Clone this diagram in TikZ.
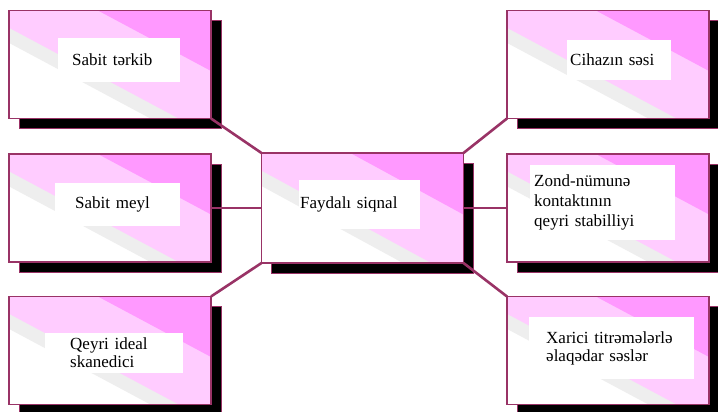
\documentclass[tikz,border=0pt]{standalone}
\usepackage{fontspec}
\setmainfont{Liberation Serif}
\usepackage{xcolor}
\usetikzlibrary{positioning,shadows,calc}

\definecolor{boxline}{HTML}{993366}
\definecolor{pinkdark}{HTML}{FF99FF}
\definecolor{pinklight}{HTML}{FFCCFF}
\definecolor{bandgray}{HTML}{EEEEEE}

% band of colour #1 from fraction #2 of the diagonal up to the top right corner
\newcommand{\bandfill}[2]{%
    \fill[#1] ($(sw)!#2!(ne)+(nw)-(se)$) -- ($(sw)!#2!(ne)+(se)-(nw)$)
        -- ($(sw)!#2!(ne)+(se)-(nw)+(ne)-(sw)$) -- ($(sw)!#2!(ne)+(nw)-(se)+(ne)-(sw)$) -- cycle;}

\begin{document}
\begin{tikzpicture}[
        node distance = 245pt,
        pinkbox/.style = {draw=boxline, line width=1.4pt, fill=white,
            minimum width=202pt, minimum height=108pt, inner sep=0pt, outer sep=0pt,
            drop shadow={shadow xshift=10pt, shadow yshift=-10pt, opacity=1, fill=black, draw=boxline, line width=0.8pt},
            path picture={
                \coordinate (sw) at (path picture bounding box.south west);
                \coordinate (ne) at (path picture bounding box.north east);
                \coordinate (nw) at (path picture bounding box.north west);
                \coordinate (se) at (path picture bounding box.south east);
                \bandfill{bandgray}{0.35}
                \bandfill{pinklight}{0.42}
                \bandfill{pinkdark}{0.72}
            }},
        whitelbl/.style = {fill=white, align=left, anchor=west, inner ysep=0pt},
        link/.style = {draw=boxline, line width=2.6pt},
        font=\fontsize{17}{19}\selectfont]
        \useasboundingbox (0pt,0pt) rectangle (718pt,-412pt);
        % BOXES
        % centre box
        \node[pinkbox, minimum height=110pt] (FS) at (362.5pt,-208pt) {};
        % left column
        \node[pinkbox, left of = FS, node distance = 252.5pt] (SM) {};
        \node[pinkbox, above of = SM, node distance = 143.5pt] (ST) {};
        \node[pinkbox, below of = SM, node distance = 142.5pt] (QI) {};
        % right column
        \node[pinkbox, right of = FS, node distance = 245.5pt] (ZN) {};
        \node[pinkbox, above of = ZN, node distance = 143.5pt] (CS) {};
        \node[pinkbox, below of = ZN, node distance = 142.5pt] (XT) {};

        % LABELS
        \node[whitelbl, inner xsep=14pt, text width=94pt, minimum height=44pt] (STl) at (58pt,-60pt) {Sabit tərkib};
        \node[whitelbl, inner xsep=20pt, text width=85pt, minimum height=43pt] (SMl) at (55pt,-204.5pt) {Sabit meyl};
        \node[whitelbl, inner xsep=25pt, text width=88pt, minimum height=40pt, font=\fontsize{17}{18}\selectfont] (QIl) at (45pt,-353pt) {Qeyri ideal\\skanedici};
        \node[whitelbl, inner xsep=1pt, text width=119pt, minimum height=49pt] (FSl) at (299pt,-204.5pt) {Faydalı siqnal};
        \node[whitelbl, inner xsep=3pt, text width=98pt, minimum height=40pt] (CSl) at (567pt,-60pt) {Cihazın səsi};
        \node[whitelbl, inner xsep=4pt, text width=137pt, minimum height=75pt, font=\fontsize{17}{20}\selectfont] (ZNl) at (530pt,-202.5pt) {Zond-nümunə\\kontaktının\\qeyri stabilliyi};
        \node[whitelbl, inner xsep=17pt, text width=131pt, minimum height=62pt, font=\fontsize{17}{18}\selectfont] (XTl) at (529pt,-348pt) {Xarici titrəmələrlə\\əlaqədar səslər};

        % CONNECTORS
        \draw[link] (ST.south east)--(FS.north west);
        \draw[link] (SM.east)--(FS.west);
        \draw[link] (QI.north east)--(FS.south west);
        \draw[link] (FS.north east)--(CS.south west);
        \draw[link] (FS.east)--(ZN.west);
        \draw[link] (FS.south east)--(XT.north west);
\end{tikzpicture}
\end{document}
